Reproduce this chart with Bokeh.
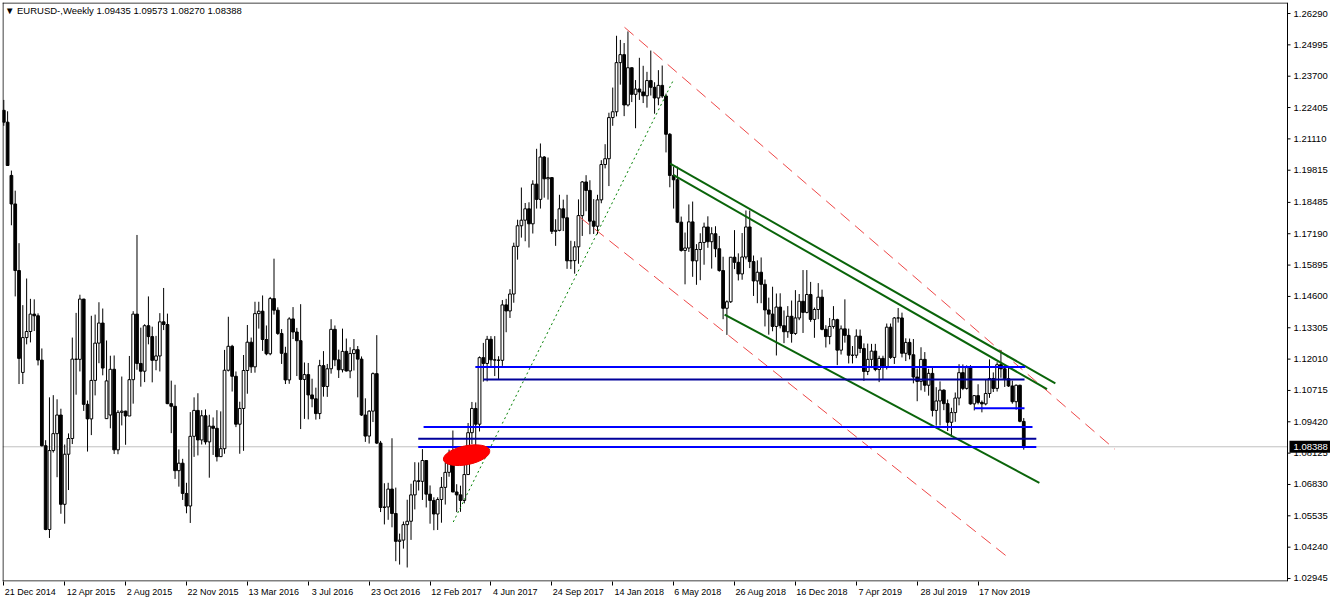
from bokeh.plotting import figure
from bokeh.models import (Range1d, FixedTicker, CustomJSTickFormatter,
                          ColumnDataSource, Label)
from bokeh.core.properties import value
from bokeh.embed import file_html
from bokeh.resources import INLINE

# ---------------- weekly EURUSD candles (week index 0 = 21 Dec 2014) ----------------
opens = [
    1.2229, 1.2180, 1.1960, 1.1842, 1.1567, 1.1146, 1.1290, 1.1315, 1.1387, 1.1380,
    1.1197, 1.0843, 1.0497, 1.0823, 1.0893, 1.0970, 1.0601, 1.0808, 1.0873, 1.1201,
    1.1200, 1.1449, 1.1014, 1.0954, 1.1113, 1.1267, 1.1350, 1.0955, 1.0970, 1.1159,
    1.0826, 1.0981, 1.0986, 1.0966, 1.1116, 1.1387, 1.1183, 1.1151, 1.1339, 1.1294,
    1.1196, 1.1214, 1.1355, 1.1344, 1.1017, 1.1006, 1.0740, 1.0771, 1.0646, 1.0594,
    1.0882, 1.0989, 1.0867, 1.0967, 1.0859, 1.0924, 1.0915, 1.0798, 1.0831, 1.1155,
    1.1254, 1.1130, 1.0932, 1.0997, 1.1154, 1.1271, 1.1169, 1.1389, 1.1399, 1.1282,
    1.1223, 1.1451, 1.1403, 1.1307, 1.1225, 1.1115, 1.1367, 1.1313, 1.1277, 1.1117,
    1.1137, 1.1053, 1.1037, 1.0976, 1.1174, 1.1088, 1.1161, 1.1324, 1.1198, 1.1157,
    1.1233, 1.1152, 1.1224, 1.1240, 1.1201, 1.0970, 1.0883, 1.0986, 1.1141, 1.0854,
    1.0588, 1.0590, 1.0664, 1.0563, 1.0448, 1.0453, 1.0517, 1.0531, 1.0640, 1.0698,
    1.0696, 1.0782, 1.0643, 1.0617, 1.0561, 1.0621, 1.0671, 1.0733, 1.0801, 1.0652,
    1.0640, 1.0617, 1.0724, 1.0897, 1.0997, 1.0932, 1.1207, 1.1183, 1.1283, 1.1198,
    1.1197, 1.1196, 1.1425, 1.1400, 1.1470, 1.1667, 1.1752, 1.1775, 1.1822, 1.1760,
    1.1924, 1.1861, 1.2036, 1.1946, 1.1951, 1.1729, 1.1733, 1.1822, 1.1785, 1.1607,
    1.1608, 1.1665, 1.1794, 1.1933, 1.1898, 1.1771, 1.1750, 1.1859, 1.2005, 1.2029,
    1.2199, 1.2223, 1.2426, 1.2459, 1.2251, 1.2405, 1.2295, 1.2317, 1.2305, 1.2289,
    1.2352, 1.2324, 1.2280, 1.2332, 1.2288, 1.2130, 1.1960, 1.1942, 1.1767, 1.1650,
    1.1660, 1.1768, 1.1607, 1.1654, 1.1683, 1.1747, 1.1686, 1.1719, 1.1657, 1.1567,
    1.1411, 1.1438, 1.1622, 1.1601, 1.1553, 1.1623, 1.1747, 1.1604, 1.1524, 1.1560,
    1.1510, 1.1404, 1.1387, 1.1336, 1.1416, 1.1339, 1.1314, 1.1378, 1.1307, 1.1371,
    1.1440, 1.1394, 1.1468, 1.1365, 1.1406, 1.1457, 1.1324, 1.1294, 1.1336, 1.1364,
    1.1238, 1.1326, 1.1299, 1.1217, 1.1217, 1.1296, 1.1245, 1.1150, 1.1200, 1.1234,
    1.1158, 1.1204, 1.1169, 1.1333, 1.1208, 1.1371, 1.1371, 1.1225, 1.1270, 1.1219,
    1.1127, 1.1109, 1.1200, 1.1093, 1.1142, 1.0989, 1.1028, 1.1073, 1.1017, 1.0940,
    1.0980, 1.1040, 1.1145, 1.1080, 1.1166, 1.1016, 1.1050, 1.1022, 1.1016, 1.1059,
    1.1121, 1.1080, 1.1178, 1.1161, 1.1120, 1.1090, 1.1025, 1.1093, 1.09435,
]
highs = [
    1.2272, 1.2225, 1.1980, 1.1897, 1.1680, 1.1424, 1.1534, 1.1450, 1.1448, 1.1390,
    1.1245, 1.0866, 1.1043, 1.1052, 1.1035, 1.0996, 1.0848, 1.0894, 1.1290, 1.1392,
    1.1467, 1.1450, 1.1030, 1.1380, 1.1385, 1.1436, 1.1410, 1.1278, 1.1215, 1.1216,
    1.0990, 1.1129, 1.0988, 1.1214, 1.1399, 1.1714, 1.1331, 1.1345, 1.1460, 1.1335,
    1.1297, 1.1391, 1.1495, 1.1389, 1.1112, 1.1095, 1.0828, 1.0789, 1.0690, 1.0982,
    1.1043, 1.1060, 1.0990, 1.0993, 1.0971, 1.0960, 1.0990, 1.0985, 1.1239, 1.1376,
    1.1260, 1.1150, 1.1025, 1.1218, 1.1342, 1.1290, 1.1438, 1.1438, 1.1464, 1.1340,
    1.1458, 1.1616, 1.1415, 1.1325, 1.1252, 1.1374, 1.1416, 1.1330, 1.1428, 1.1187,
    1.1185, 1.1120, 1.1083, 1.1198, 1.1234, 1.1181, 1.1366, 1.1340, 1.1240, 1.1327,
    1.1286, 1.1250, 1.1284, 1.1255, 1.1212, 1.1039, 1.0990, 1.1146, 1.1300, 1.0863,
    1.0688, 1.0690, 1.0874, 1.0670, 1.0480, 1.0530, 1.0620, 1.0686, 1.0775, 1.0774,
    1.0829, 1.0783, 1.0679, 1.0630, 1.0630, 1.0714, 1.0774, 1.0827, 1.0906, 1.0684,
    1.0678, 1.0778, 1.0937, 1.1024, 1.1022, 1.1212, 1.1268, 1.1297, 1.1296, 1.1296,
    1.1213, 1.1445, 1.1450, 1.1490, 1.1682, 1.1777, 1.1910, 1.1846, 1.1849, 1.1940,
    1.2070, 1.2092, 1.2040, 1.2034, 1.1952, 1.1779, 1.1880, 1.1860, 1.1880, 1.1690,
    1.1688, 1.1861, 1.1937, 1.1961, 1.1940, 1.1862, 1.1880, 1.2023, 1.2089, 1.2219,
    1.2323, 1.2537, 1.2520, 1.2507, 1.2555, 1.2406, 1.2354, 1.2446, 1.2413, 1.2388,
    1.2476, 1.2345, 1.2395, 1.2414, 1.2298, 1.2135, 1.1996, 1.1996, 1.1790, 1.1724,
    1.1840, 1.1852, 1.1676, 1.1721, 1.1765, 1.1791, 1.1746, 1.1750, 1.1710, 1.1624,
    1.1444, 1.1623, 1.1734, 1.1638, 1.1722, 1.1815, 1.1815, 1.1629, 1.1609, 1.1621,
    1.1530, 1.1455, 1.1500, 1.1472, 1.1473, 1.1402, 1.1420, 1.1443, 1.1486, 1.1470,
    1.1569, 1.1569, 1.1520, 1.1414, 1.1515, 1.1488, 1.1341, 1.1371, 1.1420, 1.1368,
    1.1340, 1.1448, 1.1327, 1.1255, 1.1324, 1.1323, 1.1266, 1.1265, 1.1264, 1.1264,
    1.1215, 1.1215, 1.1348, 1.1348, 1.1375, 1.1412, 1.1393, 1.1287, 1.1286, 1.1284,
    1.1162, 1.1250, 1.1230, 1.1161, 1.1165, 1.1085, 1.1109, 1.1076, 1.1034, 1.1000,
    1.1063, 1.1180, 1.1179, 1.1175, 1.1176, 1.1052, 1.1097, 1.1030, 1.1116, 1.1200,
    1.1146, 1.1188, 1.1239, 1.1172, 1.1173, 1.1112, 1.1096, 1.1095, 1.09573,
]
lows = [
    1.2165, 1.1999, 1.1754, 1.1460, 1.1098, 1.1098, 1.1262, 1.1270, 1.1317, 1.1175,
    1.0840, 1.0494, 1.0462, 1.0815, 1.0713, 1.0562, 1.0521, 1.0660, 1.0850, 1.1054,
    1.1150, 1.0987, 1.0819, 1.0887, 1.1051, 1.1184, 1.1134, 1.0955, 1.0915, 1.0809,
    1.0808, 1.0927, 1.0847, 1.0966, 1.1017, 1.1157, 1.1087, 1.1106, 1.1262, 1.1105,
    1.1155, 1.1150, 1.1321, 1.1015, 1.0895, 1.0706, 1.0674, 1.0619, 1.0564, 1.0524,
    1.0797, 1.0803, 1.0848, 1.0848, 1.0711, 1.0805, 1.0778, 1.0797, 1.0810, 1.1150,
    1.1067, 1.0920, 1.0810, 1.0822, 1.1058, 1.1144, 1.1145, 1.1327, 1.1235, 1.1217,
    1.1217, 1.1385, 1.1301, 1.1181, 1.1098, 1.1099, 1.1284, 1.1131, 1.0912, 1.0954,
    1.0952, 1.1002, 1.0951, 1.0953, 1.1046, 1.1045, 1.1141, 1.1172, 1.1123, 1.1146,
    1.1150, 1.1122, 1.1154, 1.1043, 1.0966, 1.0859, 1.0852, 1.0941, 1.0850, 1.0569,
    1.0518, 1.0537, 1.0506, 1.0366, 1.0352, 1.0418, 1.0340, 1.0454, 1.0580, 1.0658,
    1.0619, 1.0588, 1.0521, 1.0494, 1.0495, 1.0525, 1.0600, 1.0715, 1.0651, 1.0569,
    1.0570, 1.0605, 1.0722, 1.0850, 1.0839, 1.0902, 1.1108, 1.1109, 1.1169, 1.1131,
    1.1119, 1.1173, 1.1312, 1.1371, 1.1434, 1.1612, 1.1703, 1.1688, 1.1662, 1.1720,
    1.1823, 1.1823, 1.1868, 1.1860, 1.1718, 1.1669, 1.1729, 1.1730, 1.1574, 1.1573,
    1.1554, 1.1595, 1.1710, 1.1812, 1.1717, 1.1718, 1.1717, 1.1845, 1.1989, 1.1916,
    1.2165, 1.2204, 1.2335, 1.2205, 1.2245, 1.2263, 1.2155, 1.2272, 1.2259, 1.2240,
    1.2290, 1.2215, 1.2250, 1.2280, 1.2055, 1.1911, 1.1823, 1.1763, 1.1645, 1.1510,
    1.1644, 1.1541, 1.1508, 1.1527, 1.1591, 1.1661, 1.1575, 1.1622, 1.1562, 1.1366,
    1.1301, 1.1433, 1.1573, 1.1526, 1.1529, 1.1613, 1.1577, 1.1462, 1.1432, 1.1432,
    1.1336, 1.1302, 1.1316, 1.1216, 1.1328, 1.1267, 1.1289, 1.1269, 1.1301, 1.1362,
    1.1309, 1.1390, 1.1355, 1.1289, 1.1366, 1.1320, 1.1249, 1.1262, 1.1327, 1.1176,
    1.1220, 1.1269, 1.1183, 1.1183, 1.1205, 1.1226, 1.1111, 1.1135, 1.1164, 1.1151,
    1.1106, 1.1116, 1.1158, 1.1202, 1.1181, 1.1352, 1.1208, 1.1193, 1.1200, 1.1101,
    1.1027, 1.1072, 1.1066, 1.1050, 1.0964, 1.0926, 1.0927, 1.0990, 1.0904, 1.0879,
    1.0942, 1.1010, 1.1073, 1.1075, 1.1013, 1.0989, 1.1014, 1.0981, 1.1010, 1.1041,
    1.1065, 1.1067, 1.1124, 1.1086, 1.1086, 1.1017, 1.0992, 1.0940, 1.08270,
]
closes = [
    1.2180, 1.2001, 1.1842, 1.1567, 1.1204, 1.1290, 1.1315, 1.1387, 1.1380, 1.1197,
    1.0843, 1.0497, 1.0823, 1.0893, 1.0970, 1.0601, 1.0808, 1.0873, 1.1201, 1.1200,
    1.1449, 1.1014, 1.0954, 1.1113, 1.1267, 1.1350, 1.1164, 1.1111, 1.1159, 1.0826,
    1.0981, 1.0986, 1.0966, 1.1116, 1.1387, 1.1183, 1.1151, 1.1339, 1.1294, 1.1196,
    1.1214, 1.1355, 1.1344, 1.1017, 1.1006, 1.0740, 1.0771, 1.0646, 1.0594, 1.0882,
    1.0989, 1.0867, 1.0967, 1.0859, 1.0924, 1.0915, 1.0798, 1.0831, 1.1155, 1.1254,
    1.1130, 1.0932, 1.0997, 1.1154, 1.1271, 1.1169, 1.1389, 1.1399, 1.1282, 1.1223,
    1.1451, 1.1403, 1.1307, 1.1225, 1.1115, 1.1367, 1.1313, 1.1277, 1.1117, 1.1137,
    1.1053, 1.1037, 1.0976, 1.1174, 1.1088, 1.1161, 1.1324, 1.1198, 1.1157, 1.1233,
    1.1152, 1.1224, 1.1240, 1.1201, 1.0970, 1.0883, 1.0986, 1.1141, 1.0854, 1.0588,
    1.0590, 1.0664, 1.0563, 1.0448, 1.0453, 1.0517, 1.0531, 1.0640, 1.0698, 1.0696,
    1.0782, 1.0643, 1.0617, 1.0561, 1.0621, 1.0671, 1.0733, 1.0801, 1.0652, 1.0640,
    1.0617, 1.0724, 1.0897, 1.0997, 1.0932, 1.1207, 1.1183, 1.1283, 1.1198, 1.1197,
    1.1196, 1.1425, 1.1400, 1.1470, 1.1667, 1.1752, 1.1775, 1.1822, 1.1760, 1.1924,
    1.1861, 1.2036, 1.1946, 1.1951, 1.1729, 1.1733, 1.1822, 1.1785, 1.1607, 1.1608,
    1.1665, 1.1794, 1.1933, 1.1898, 1.1771, 1.1750, 1.1859, 1.2005, 1.2029, 1.2199,
    1.2223, 1.2426, 1.2459, 1.2251, 1.2405, 1.2295, 1.2317, 1.2305, 1.2289, 1.2352,
    1.2324, 1.2280, 1.2332, 1.2288, 1.2130, 1.1960, 1.1942, 1.1767, 1.1650, 1.1660,
    1.1768, 1.1607, 1.1654, 1.1683, 1.1747, 1.1686, 1.1719, 1.1657, 1.1567, 1.1411,
    1.1438, 1.1622, 1.1601, 1.1553, 1.1623, 1.1747, 1.1604, 1.1524, 1.1560, 1.1510,
    1.1404, 1.1387, 1.1336, 1.1416, 1.1339, 1.1314, 1.1378, 1.1307, 1.1371, 1.1440,
    1.1394, 1.1468, 1.1365, 1.1406, 1.1457, 1.1324, 1.1294, 1.1336, 1.1364, 1.1238,
    1.1326, 1.1299, 1.1217, 1.1217, 1.1296, 1.1245, 1.1150, 1.1200, 1.1234, 1.1158,
    1.1204, 1.1169, 1.1333, 1.1208, 1.1371, 1.1371, 1.1225, 1.1270, 1.1219, 1.1127,
    1.1109, 1.1200, 1.1093, 1.1142, 1.0989, 1.1028, 1.1073, 1.1017, 1.0940, 1.0980,
    1.1040, 1.1145, 1.1080, 1.1166, 1.1016, 1.1050, 1.1022, 1.1016, 1.1059, 1.1121,
    1.1080, 1.1178, 1.1161, 1.1120, 1.1090, 1.1025, 1.1093, 1.0944, 1.08388,
]
assert len(opens) == len(highs) == len(lows) == len(closes) == 269

# ---------------- axes ----------------
x_tick_weeks = [0, 16, 32, 48, 64, 80, 96, 112, 128, 144, 160, 176, 192, 208, 224, 240, 256]
x_tick_labels = ["21 Dec 2014", "12 Apr 2015", "2 Aug 2015", "22 Nov 2015", "13 Mar 2016",
                 "3 Jul 2016", "23 Oct 2016", "12 Feb 2017", "4 Jun 2017", "24 Sep 2017",
                 "14 Jan 2018", "6 May 2018", "26 Aug 2018", "16 Dec 2018", "7 Apr 2019",
                 "28 Jul 2019", "17 Nov 2019"]
y_ticks = [1.26290, 1.24995, 1.23700, 1.22405, 1.21110, 1.19815, 1.18485, 1.17190, 1.15895,
           1.14600, 1.13305, 1.12010, 1.10715, 1.09420, 1.08125, 1.06830, 1.05535, 1.04240, 1.02945]

title_text = "\u25BC EURUSD-,Weekly  1.09435 1.09573 1.08270 1.08388"
bid_price = 1.08388

# ---------------- drawn objects (week index, price) ----------------
blue_price = [1.1168, 1.1117, 1.0998, 1.0920, 1.0872, 1.0838]
blue_from = [123.9, 126.0, 255.0, 110.3, 108.9, 108.9]
blue_to = [268.4, 268.2, 268.2, 270.3, 271.3, 271.3]

green_x0 = [175.1, 175.9, 189.4]
green_y0 = [1.2009, 1.1962, 1.1385]
green_x1 = [276.3, 274.1, 272.1]
green_y1 = [1.1101, 1.1077, 1.0690]

red_x0 = [163.1, 151.3]
red_y0 = [1.2572, 1.1788]
red_x1 = [291.9, 264.5]
red_y1 = [1.0829, 1.0374]

dotted_x = [118.1, 176.0]
dotted_y = [1.0528, 1.2356]

blob_x = [121.6]
blob_y = [1.0804]
blob_w = [12.4]
blob_h = [0.0078]

# ---------------- layout constants ----------------
FONT = "Liberation Sans"
PX_WEEK = 3.806            # pixels per week
X0 = -0.34                 # left edge of chart frame (weeks)
AXIS_X = 337.3             # price scale line (right edge of chart area)
X1 = AXIS_X + 43 / PX_WEEK  # right edge of figure (price label strip)
Y0, Y1 = 1.02821, 1.26745
PX_PRICE = 580.0 / (Y1 - Y0)
hx = 0.5 / PX_WEEK
hy = 0.5 / PX_PRICE

p = figure(width=1330, height=599, output_backend="svg", toolbar_location=None,
           x_range=Range1d(X0, X1), y_range=Range1d(Y0, Y1),
           y_axis_location=None, min_border=0, min_border_left=2, min_border_top=2,
           background_fill_color="white", border_fill_color="white")
p.xgrid.visible = False
p.ygrid.visible = False
p.outline_line_color = None

# bid line
p.segment(x0=[X0], y0=[bid_price], x1=[AXIS_X], y1=[bid_price], line_color="#c0c0c0", line_width=1)

weeks = list(range(len(closes)))
src = ColumnDataSource(dict(
    x=weeks, h=highs, l=lows,
    top=[max(o, c) for o, c in zip(opens, closes)],
    bot=[min(o, c) for o, c in zip(opens, closes)],
    fill=["white" if c >= o else "black" for o, c in zip(opens, closes)],
))
p.segment(x0="x", y0="l", x1="x", y1="h", source=src, line_color="black", line_width=1)
p.vbar(x="x", width=0.72, top="top", bottom="bot", source=src,
       fill_color="fill", line_color="black", line_width=1)

# drawings
p.line(dotted_x, dotted_y, line_color="#008000", line_width=1, line_dash="2 3")
p.segment(x0=red_x0, y0=red_y0, x1=red_x1, y1=red_y1, line_color="#ee4646",
          line_width=1, line_dash="12 7")
p.segment(x0=green_x0, y0=green_y0, x1=green_x1, y1=green_y1, line_color="#0a640a", line_width=2)
blue_cols = ["#0000ff", "#00009a", "#0000ff", "#0000ff", "#00009a", "#0000ff"]
p.segment(x0=blue_from, y0=blue_price, x1=blue_to, y1=blue_price, line_color=blue_cols, line_width=2)
p.ellipse(x=blob_x, y=blob_y, width=blob_w, height=blob_h, angle=0.2,
          fill_color="#ff0000", line_color="#ee0000")

# chart frame (left, top, bottom) and price scale line
p.segment(x0=[X0 + hx, X0, X0, AXIS_X], y0=[Y0, Y1 - hy, Y0 + hy, Y0],
          x1=[X0 + hx, AXIS_X, AXIS_X, AXIS_X], y1=[Y1, Y1 - hy, Y0 + hy, Y1],
          line_color="black", line_width=1)

# price scale: tick marks and labels
p.segment(x0=[AXIS_X] * len(y_ticks), y0=y_ticks,
          x1=[AXIS_X + 3 / PX_WEEK] * len(y_ticks), y1=y_ticks, line_color="black", line_width=1)
p.text(x=[AXIS_X + 6 / PX_WEEK] * len(y_ticks), y=y_ticks, text=["%.5f" % t for t in y_ticks],
       text_font=value(FONT), text_font_size=value("9.5px"), text_color="black",
       text_baseline="middle", text_align="left")

# bid price box on the price scale
p.quad(left=[AXIS_X + 2 / PX_WEEK], right=[X1], top=[bid_price + 6 / PX_PRICE],
       bottom=[bid_price - 6 / PX_PRICE], fill_color="black", line_color=None)
p.text(x=[AXIS_X + 6 / PX_WEEK], y=[bid_price], text=["%.5f" % bid_price],
       text_font=value(FONT), text_font_size=value("9.5px"), text_color="white",
       text_baseline="middle", text_align="left")

# bottom date axis: labels start just right of their tick marks (minor ticks)
x_label_pos = [w + (2.0 + 0.5 * 4.45 * len(t)) / PX_WEEK for w, t in zip(x_tick_weeks, x_tick_labels)]
xa = p.xaxis[0]
xa.ticker = FixedTicker(ticks=x_label_pos, minor_ticks=x_tick_weeks)
xa.formatter = CustomJSTickFormatter(args=dict(pos=x_label_pos, labels=x_tick_labels), code="""
let best = 0;
for (let k = 0; k < pos.length; k++) {
  if (Math.abs(pos[k] - tick) < Math.abs(pos[best] - tick)) { best = k; }
}
return labels[best];
""")
xa.major_tick_out = 0
xa.major_tick_in = 0
xa.minor_tick_out = 4
xa.minor_tick_in = 0
xa.minor_tick_line_color = "black"
xa.axis_line_color = None
xa.major_label_standoff = 1
xa.major_label_text_font = FONT
xa.major_label_text_font_size = "9px"
xa.major_label_text_color = "black"

# chart title
p.add_layout(Label(x=0.3, y=1.26414, text=title_text, text_font=FONT, text_font_size="9.5px",
                   text_color="black", text_baseline="middle", text_align="left"))

open("out.html", "w").write(file_html(p, INLINE, title="EURUSD Weekly"))
